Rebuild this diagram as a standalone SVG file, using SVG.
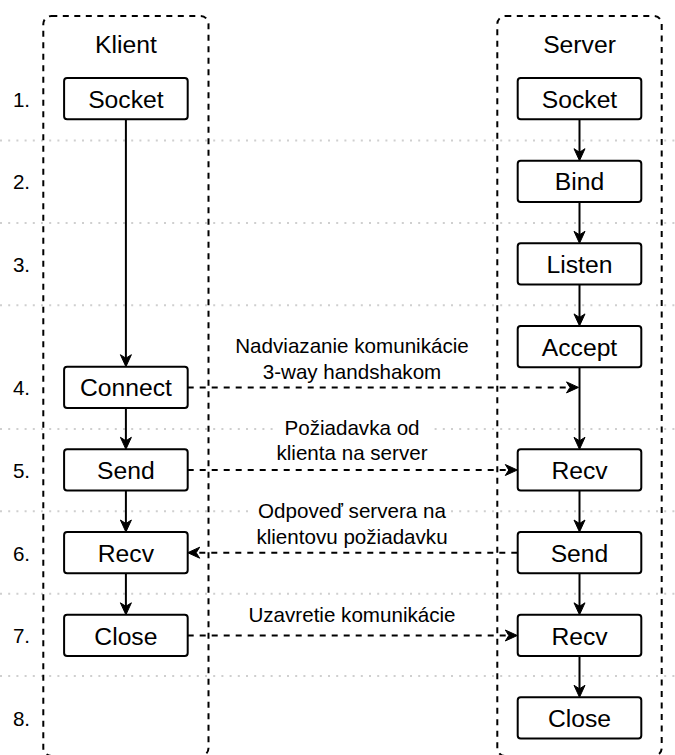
<svg xmlns="http://www.w3.org/2000/svg" width="675" height="755" viewBox="0 0 675 755">
  <style>
    text { font-family: "Liberation Sans", Arial, Helvetica, sans-serif; fill: #000; }
    .title { font-size: 24.7px; text-anchor: middle; }
    .box { fill: #fff; stroke: #000; stroke-width: 2; }
    .box-label { font-size: 24.7px; text-anchor: middle; }
    .num { font-size: 20.6px; text-anchor: middle; }
    .msg { font-size: 20.6px; text-anchor: middle; }
    .msg-bg { fill: #fff; stroke: none; }
    .lane { fill: none; stroke: #000; stroke-width: 2; stroke-dasharray: 6 5.5; }
    .row-sep { stroke: #cfcfcf; stroke-width: 2; stroke-dasharray: 2 6.2; fill: none; }
    .flow { fill: none; stroke: #000; stroke-width: 2; marker-end: url(#arrow); }
    .msg-line { fill: none; stroke: #000; stroke-width: 2; stroke-dasharray: 6 6; marker-end: url(#arrow); }
  </style>
  <defs>
    <marker id="arrow" viewBox="-13 -7 14 14" refX="-3" refY="0" markerWidth="14" markerHeight="14" markerUnits="userSpaceOnUse" orient="auto" overflow="visible">
      <path d="M0,0 L-12,-5.5 L-8.5,0 L-12,5.5 Z" fill="#000" stroke="#000" stroke-width="1" stroke-linejoin="miter"/>
    </marker>
  </defs>

  <!-- row separators -->
  <g id="rows">
    <path class="row-sep" d="M0,140.5 H675"/>
    <path class="row-sep" d="M0,222.9 H675"/>
    <path class="row-sep" d="M0,305.3 H675"/>
    <path class="row-sep" d="M0,428.9 H675"/>
    <path class="row-sep" d="M0,511.3 H675"/>
    <path class="row-sep" d="M0,593.7 H675"/>
    <path class="row-sep" d="M0,676.1 H675"/>
  </g>

  <!-- step numbers -->
  <g id="steps">
    <text class="num" x="21.5" y="106.6">1.</text>
    <text class="num" x="21.5" y="189.2">2.</text>
    <text class="num" x="21.5" y="271.8">3.</text>
    <text class="num" x="21.5" y="395.2">4.</text>
    <text class="num" x="21.5" y="477.8">5.</text>
    <text class="num" x="21.5" y="560.5">6.</text>
    <text class="num" x="21.5" y="643.2">7.</text>
    <text class="num" x="21.5" y="725.8">8.</text>
  </g>

  <!-- swimlanes -->
  <g id="lane-klient">
    <rect class="lane" x="43.3" y="16" width="165.2" height="740" rx="8" ry="8"/>
    <text class="title" x="125.9" y="53.4">Klient</text>
  </g>
  <g id="lane-server">
    <rect class="lane" x="497.3" y="16" width="164.4" height="740" rx="8" ry="8"/>
    <text class="title" x="579.5" y="53.4">Server</text>
  </g>

  <!-- connectors -->
  <g id="connectors">
    <!-- client flow -->
    <path class="flow" d="M125.9,119.3 V363.7"/>
    <path class="flow" d="M125.9,408 V446.3"/>
    <path class="flow" d="M125.9,490.6 V529"/>
    <path class="flow" d="M125.9,573.3 V611.8"/>
    <!-- server flow -->
    <path class="flow" d="M579.5,119.3 V157.7"/>
    <path class="flow" d="M579.5,202 V240.3"/>
    <path class="flow" d="M579.5,284.6 V322.9"/>
    <path class="flow" d="M579.5,367.2 V446.3"/>
    <path class="flow" d="M579.5,490.6 V529"/>
    <path class="flow" d="M579.5,573.3 V611.8"/>
    <path class="flow" d="M579.5,656.1 V694.3"/>
    <!-- messages between client and server -->
    <path class="msg-line" d="M187.7,387.4 H575.5"/>
    <path class="msg-line" d="M187.7,470 H514.3"/>
    <path class="msg-line" d="M517.3,552.7 H190.7"/>
    <path class="msg-line" d="M187.7,635.5 H514.3"/>
  </g>

  <!-- message labels -->
  <g id="label-handshake">
    <rect class="msg-bg" x="233" y="334" width="238" height="50"/>
    <text class="msg" x="352" y="353.3">Nadviazanie komunikácie</text>
    <text class="msg" x="352" y="379.2">3-way handshakom</text>
  </g>
  <g id="label-request">
    <rect class="msg-bg" x="273" y="416" width="159" height="49"/>
    <text class="msg" x="352" y="434.5">Požiadavka od</text>
    <text class="msg" x="352" y="460">klienta na server</text>
  </g>
  <g id="label-response">
    <rect class="msg-bg" x="254" y="498" width="196" height="50"/>
    <text class="msg" x="352" y="518.3">Odpoveď servera na</text>
    <text class="msg" x="352" y="543.6">klientovu požiadavku</text>
  </g>
  <g id="label-close">
    <rect class="msg-bg" x="247" y="602" width="210" height="26"/>
    <text class="msg" x="352" y="622.3">Uzavretie komunikácie</text>
  </g>

  <!-- client nodes -->
  <g id="klient-socket">
    <rect class="box" x="64.1" y="78" width="123.6" height="41.3" rx="3"/>
    <text class="box-label" x="125.9" y="107.7">Socket</text>
  </g>
  <g id="klient-connect">
    <rect class="box" x="64.1" y="366.7" width="123.6" height="41.3" rx="3"/>
    <text class="box-label" x="125.9" y="396.4">Connect</text>
  </g>
  <g id="klient-send">
    <rect class="box" x="64.1" y="449.3" width="123.6" height="41.3" rx="3"/>
    <text class="box-label" x="125.9" y="479">Send</text>
  </g>
  <g id="klient-recv">
    <rect class="box" x="64.1" y="532" width="123.6" height="41.3" rx="3"/>
    <text class="box-label" x="125.9" y="561.7">Recv</text>
  </g>
  <g id="klient-close">
    <rect class="box" x="64.1" y="614.8" width="123.6" height="41.3" rx="3"/>
    <text class="box-label" x="125.9" y="644.5">Close</text>
  </g>

  <!-- server nodes -->
  <g id="server-socket">
    <rect class="box" x="517.7" y="78" width="123.6" height="41.3" rx="3"/>
    <text class="box-label" x="579.5" y="107.7">Socket</text>
  </g>
  <g id="server-bind">
    <rect class="box" x="517.7" y="160.7" width="123.6" height="41.3" rx="3"/>
    <text class="box-label" x="579.5" y="190.4">Bind</text>
  </g>
  <g id="server-listen">
    <rect class="box" x="517.7" y="243.3" width="123.6" height="41.3" rx="3"/>
    <text class="box-label" x="579.5" y="273">Listen</text>
  </g>
  <g id="server-accept">
    <rect class="box" x="517.7" y="325.9" width="123.6" height="41.3" rx="3"/>
    <text class="box-label" x="579.5" y="355.6">Accept</text>
  </g>
  <g id="server-recv-request">
    <rect class="box" x="517.7" y="449.3" width="123.6" height="41.3" rx="3"/>
    <text class="box-label" x="579.5" y="479">Recv</text>
  </g>
  <g id="server-send">
    <rect class="box" x="517.7" y="532" width="123.6" height="41.3" rx="3"/>
    <text class="box-label" x="579.5" y="561.7">Send</text>
  </g>
  <g id="server-recv-close">
    <rect class="box" x="517.7" y="614.8" width="123.6" height="41.3" rx="3"/>
    <text class="box-label" x="579.5" y="644.5">Recv</text>
  </g>
  <g id="server-close">
    <rect class="box" x="517.7" y="697.3" width="123.6" height="41.3" rx="3"/>
    <text class="box-label" x="579.5" y="727">Close</text>
  </g>
</svg>
